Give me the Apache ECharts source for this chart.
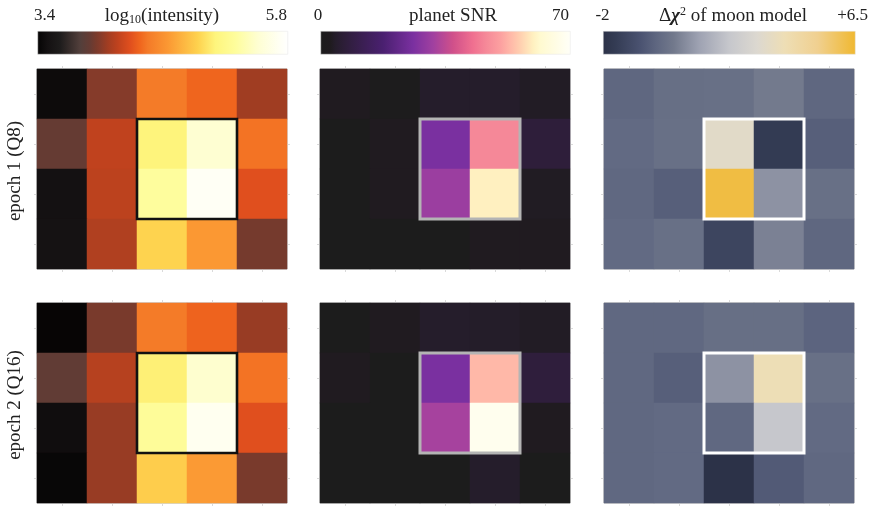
<!DOCTYPE html>
<html><head><meta charset="utf-8">
<script src="https://cdn.jsdelivr.net/npm/echarts@6/dist/echarts.min.js"></script>
<style>html,body{margin:0;padding:0;background:#fff}#c{width:872px;height:506px}</style>
</head><body><div id="c"></div>
<script>
// ---- data ----
const xCats = ['0','1','2','3','4'];
const yCats = ['0','1','2','3'];
const rowLabels = ['epoch 1 (Q8)', 'epoch 2 (Q16)'];

const intensityE1 = [
  [3.45, 4.00, 4.46, 4.38, 4.07],
  [3.90, 4.17, 5.10, 5.51, 4.43],
  [3.50, 4.16, 5.30, 5.73, 4.29],
  [3.51, 4.12, 4.94, 4.65, 3.95]
];
const intensityE2 = [
  [3.41, 3.96, 4.46, 4.37, 4.05],
  [3.88, 4.14, 5.08, 5.50, 4.43],
  [3.47, 4.05, 5.28, 5.70, 4.29],
  [3.42, 4.05, 4.91, 4.66, 3.96]
];
const snrE1 = [
  [2.8, 0.5, 4.2, 4.2, 3.5],
  [0.0, 2.8, 25.9, 46.2, 7.0],
  [0.0, 2.8, 30.8, 59.5, 3.2],
  [0.0, 0.0, 0.0, 2.8, 2.8]
];
const snrE2 = [
  [0.0, 2.8, 4.2, 4.0, 3.5],
  [2.8, 0.0, 25.9, 53.2, 7.4],
  [0.0, 0.0, 32.2, 68.0, 2.8],
  [0.0, 0.0, 0.0, 4.2, 0.0]
];
const chiE1 = [
  [-0.20, 0.05, 0.10, 0.40, -0.20],
  [-0.10, 0.10, 3.45, -1.60, -0.40],
  [-0.15, -0.40, 6.25, 0.90, 0.10],
  [-0.10, 0.10, -1.25, 0.55, -0.20]
];
const chiE2 = [
  [-0.15, -0.15, 0.05, 0.05, -0.25],
  [-0.15, -0.40, 0.90, 4.10, 0.10],
  [-0.15, -0.10, -0.15, 2.25, -0.10],
  [-0.15, -0.10, -2.00, -0.55, -0.15]
];
const ranges = [[3.4, 5.8], [0, 70], [-2, 6.5]];
const rangeLabels = [['3.4', '5.8'], ['0', '70'], ['-2', '+6.5']];
const boxCols = [2, 3];
const boxRows = [1, 2];

// ---- colormaps (style) ----
const cmIntensity = [[0,'#050404'],[0.04,'#141112'],[0.09,'#1e1c1c'],[0.17,'#523f3b'],[0.21,'#663b33'],[0.235,'#7a3a2b'],[0.25,'#853b2a'],[0.28,'#a13d22'],[0.32,'#bf421e'],[0.37,'#e04f1e'],[0.41,'#f0661e'],[0.44,'#f47a28'],[0.52,'#fb9833'],[0.64,'#fed24e'],[0.71,'#fef57d'],[0.79,'#fefd9c'],[0.88,'#fefed2'],[0.97,'#fffff5'],[1,'#ffffff']];
const cmSnr = [[0,'#1c1c1c'],[0.04,'#1f1b1f'],[0.06,'#251d2b'],[0.1,'#2e1e3a'],[0.25,'#4a2070'],[0.37,'#7a30a0'],[0.45,'#a040a0'],[0.53,'#d0508a'],[0.61,'#f07090'],[0.66,'#f58898'],[0.72,'#fca0a0'],[0.76,'#ffb8a8'],[0.8,'#ffd0b0'],[0.85,'#fff0c0'],[0.88,'#fffad0'],[1,'#fffff8']];
const cmChi = [[0,'#2c3248'],[0.05,'#343c54'],[0.146,'#4a5270'],[0.21,'#5e6680'],[0.28,'#72798c'],[0.38,'#9ea2b2'],[0.5,'#c6c7cc'],[0.61,'#dcd8d0'],[0.72,'#eedeb5'],[0.85,'#f0d090'],[0.95,'#f0c050'],[1,'#f0b830']];
const cmaps = [cmIntensity, cmSnr, cmChi];
const boxColors = ['#111111', '#b4b4b4', '#ffffff'];
const boxWidths = [2.6, 3, 3];

function hex2rgb(h){return [parseInt(h.slice(1,3),16),parseInt(h.slice(3,5),16),parseInt(h.slice(5,7),16)];}
function resample(stops, n){
  const out=[];
  for(let i=0;i<n;i++){
    const t=i/(n-1);
    let k=0; while(k<stops.length-2 && stops[k+1][0]<t) k++;
    const a=stops[k], b=stops[k+1];
    const u=Math.min(1,Math.max(0,(t-a[0])/(b[0]-a[0])));
    const ca=hex2rgb(a[1]), cb=hex2rgb(b[1]);
    const c=ca.map((v,j)=>Math.round(v+(cb[j]-v)*u));
    out.push('rgb('+c.join(',')+')');
  }
  return out;
}
function toCells(m){const d=[];m.forEach((row,r)=>row.forEach((v,c)=>d.push([c,r,v])));return d;}

const panels = [[intensityE1, snrE1, chiE1],[intensityE2, snrE2, chiE2]];
const colLeft = [37, 320, 604];
const rowTop = [69, 303];
const W = 250, H = 200;
const cbars = [[37.5, 250], [320.5, 249.5], [603, 252]];

const grids=[], xAxes=[], yAxes=[], series=[];
const tickStyle = {show:true, alignWithLabel:true, interval:0, length:3, lineStyle:{color:'#dadada', width:1}};
for(let r=0;r<2;r++){
  for(let c=0;c<3;c++){
    const g=grids.length;
    grids.push({left:colLeft[c], top:rowTop[r], width:W, height:H, show:true, borderColor:'#aaaaaa', borderWidth:1, backgroundColor:'transparent'});
    ['bottom','top'].forEach(p=>xAxes.push({type:'category', data:xCats, gridIndex:g, position:p, axisLine:{show:false}, axisLabel:{show:false}, axisTick:tickStyle, splitLine:{show:false}}));
    ['left','right'].forEach(p=>yAxes.push({type:'category', data:yCats, gridIndex:g, position:p, inverse:true, axisLine:{show:false}, axisLabel:{show:false}, axisTick:tickStyle, splitLine:{show:false}}));
    series.push({type:'heatmap', name:'p'+r+c, xAxisIndex:2*g, yAxisIndex:2*g, data:toCells(panels[r][c]), itemStyle:{borderWidth:0}, emphasis:{disabled:true}, z:2});
  }
}
// highlight boxes
for(let r=0;r<2;r++){
  for(let c=0;c<3;c++){
    const g=r*3+c;
    series.push({type:'custom', xAxisIndex:2*g, yAxisIndex:2*g, clip:false, z:5, silent:true,
      data:[[boxCols[0], boxRows[0], boxCols[1], boxRows[1]]],
      renderItem:function(params, api){
        const p0=api.coord([api.value(0), api.value(1)]);
        const p1=api.coord([api.value(2), api.value(3)]);
        const s=api.size([1,1]);
        return {type:'rect', shape:{x:p0[0]-s[0]/2, y:p0[1]-s[1]/2, width:p1[0]-p0[0]+s[0], height:p1[1]-p0[1]+s[1]},
          style:{fill:'none', stroke:boxColors[c], lineWidth:boxWidths[c]}};
      }});
  }
}
const visualMaps = [0,1,2].map(c=>({type:'continuous', show:false, min:ranges[c][0], max:ranges[c][1], seriesIndex:[c, c+3], inRange:{color:resample(cmaps[c], 241)}}));

// colorbars + text
const font = '"Liberation Serif", "DejaVu Serif", serif';
const textColor = '#222';
const graphic = [];
const titles = [
  {text:'{a|log}{s|10}{a|(intensity)}', cx:162},
  {text:'{a|planet SNR}', cx:453},
  {text:'{a|Δ}{i|χ}{p|2}{a| of moon model}', cx:733}
];
const leftLabelX = [44.5, 318, 602.5];
const rightLabelX = [287, 569, 868];
for(let c=0;c<3;c++){
  graphic.push({type:'rect', left:cbars[c][0], top:31, shape:{width:cbars[c][1], height:23},
    style:{fill:{type:'linear', x:0, y:0, x2:1, y2:0, colorStops:cmaps[c].map(s=>({offset:s[0], color:s[1]}))}, stroke:'#e4e4e4', lineWidth:0.5}});
  graphic.push({type:'text', x:leftLabelX[c], y:16, style:{text:rangeLabels[c][0], font:'17px '+font, fill:textColor, align:'center', verticalAlign:'middle'}});
  graphic.push({type:'text', x:rightLabelX[c], y:16, style:{text:rangeLabels[c][1], font:'17px '+font, fill:textColor, align:'right', verticalAlign:'middle'}});
  graphic.push({type:'text', x:titles[c].cx, y:16, style:{text:titles[c].text, align:'center', verticalAlign:'middle', fill:textColor,
    rich:{a:{fontFamily:font, fontSize:19, fill:textColor, fontStyle:'normal'}, s:{fontFamily:font, fontSize:12, fill:textColor, verticalAlign:'bottom', padding:[8,0,0,0]},
          i:{fontFamily:font, fontSize:19, fill:textColor, fontStyle:'italic', fontWeight:'bold'}, p:{fontFamily:font, fontSize:12, fill:textColor, padding:[0,0,8,0]}}}});
}
for(let r=0;r<2;r++){
  graphic.push({type:'text', x:15.5, y:rowTop[r]+H/2+2, rotation:Math.PI/2,
    style:{text:rowLabels[r], font:'19px '+font, fill:textColor, align:'center', verticalAlign:'middle'}});
}

const chart = echarts.init(document.getElementById('c'), null, {renderer:'canvas'});
chart.setOption({animation:false, backgroundColor:'#fff', grid:grids, xAxis:xAxes, yAxis:yAxes, visualMap:visualMaps, series:series, graphic:graphic});
</script></body></html>
